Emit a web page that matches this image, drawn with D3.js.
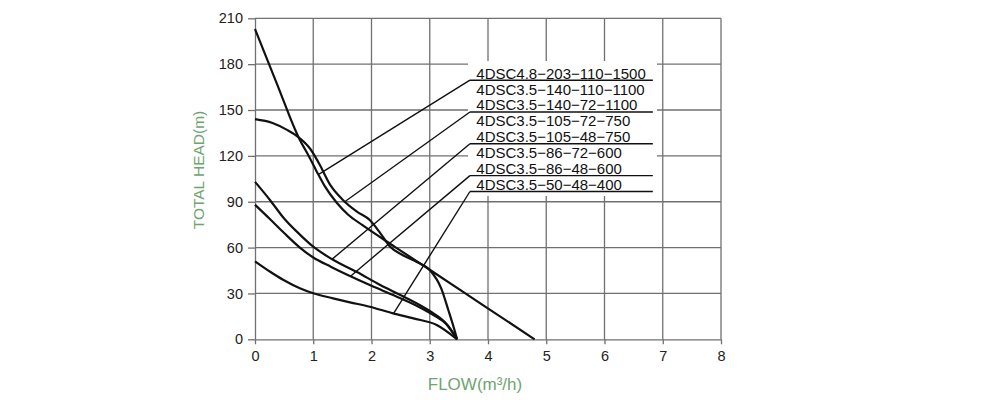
<!DOCTYPE html>
<html>
<head>
<meta charset="utf-8">
<script src="https://cdn.jsdelivr.net/npm/d3@7"></script>
<style>
  body { margin: 0; background: #fff; }
  svg { display: block; font-family: "Liberation Sans", Arial, sans-serif; }
</style>
</head>
<body>
<svg id="chart" width="1000" height="400"></svg>
<script>
// axis ticks
const flowTicks = [0, 1, 2, 3, 4, 5, 6, 7, 8];
const headTicks = [0, 30, 60, 90, 120, 150, 180, 210];

// pump curves (flow m3/h, head m)
const flow203 = [0, 0.38, 0.77, 0.90, 1.05, 1.20, 1.40, 1.60, 1.84, 2.40, 3.00, 3.90, 4.80];
const head203 = [203, 166.8, 130.4, 121.5, 110.5, 100.0, 89.5, 81.5, 74.8, 60.5, 45.5, 22.7, 0];

const flow140 = [0, 0.30, 0.55, 0.77, 0.95, 1.10, 1.30, 1.50, 1.75, 1.97, 2.15, 2.32, 2.54, 2.78, 3.00, 3.20, 3.32, 3.41, 3.47];
const head140 = [144, 141.5, 137.0, 131.5, 124.5, 115.0, 100.5, 91.5, 83.5, 78.0, 69.5, 60.5, 55.0, 50.6, 45.3, 33.0, 19.0, 8.0, 0];

const flow105 = [0, 0.26, 0.50, 0.77, 1.00, 1.34, 1.75, 2.15, 2.55, 3.00, 3.25, 3.47];
const head105 = [103, 91.0, 79.0, 68.5, 60.6, 52.0, 44.0, 35.5, 28.0, 18.5, 11.5, 0];

const flow86 = [0, 0.26, 0.50, 0.77, 1.00, 1.30, 1.63, 2.00, 2.40, 2.80, 3.10, 3.30, 3.47];
const head86 = [88, 78.5, 69.5, 60.0, 53.5, 47.5, 41.4, 35.0, 28.5, 21.5, 15.0, 9.5, 0];

const flow50 = [0, 0.26, 0.49, 0.77, 1.00, 1.34, 1.63, 1.97, 2.37, 2.72, 3.12, 3.47];
const head50 = [51, 44.2, 38.8, 33.4, 30.1, 26.8, 24.2, 21.3, 17.0, 13.7, 9.4, 0];

// legend labels, which rows get an underline + leader, and where the leader points
const models = [
  '4DSC4.8\u2212203\u2212110\u22121500',
  '4DSC3.5\u2212140\u2212110\u22121100',
  '4DSC3.5\u2212140\u221272\u22121100',
  '4DSC3.5\u2212105\u221272\u2212750',
  '4DSC3.5\u2212105\u221248\u2212750',
  '4DSC3.5\u221286\u221272\u2212600',
  '4DSC3.5\u221286\u221248\u2212600',
  '4DSC3.5\u221250\u221248\u2212400'
];
const leaderRows = [0, 2, 4, 6, 7];
const leaderFlow = [1.10, 1.54, 1.32, 1.64, 2.38];
const leaderHead = [108, 90.0, 52.3, 41.3, 17.0];

const svg = d3.select('#chart');

const x = d3.scaleLinear().domain([0, 8]).range([255, 721]);
const y = d3.scaleLinear().domain([0, 210]).range([339.3, 18.3]);

const gridColor = '#707070';

// grid
const grid = svg.append('g').attr('class', 'grid');
grid.selectAll('line.h')
    .data(headTicks.filter(d => d > 0))
    .enter().append('line')
    .attr('class', 'h')
    .attr('x1', x(0)).attr('x2', x(8))
    .attr('y1', d => y(d)).attr('y2', d => y(d))
    .style('stroke', gridColor).attr('stroke-width', 1.3);
grid.selectAll('line.v')
    .data(flowTicks.filter(d => d > 0))
    .enter().append('line')
    .attr('class', 'v')
    .attr('x1', d => x(d)).attr('x2', d => x(d))
    .attr('y1', y(0)).attr('y2', y(210))
    .style('stroke', gridColor).attr('stroke-width', 1.3);

// axes
const yAxis = svg.append('g')
    .attr('transform', `translate(${x(0)},0)`)
    .call(d3.axisLeft(y).tickValues(headTicks).tickSize(7).tickSizeOuter(0).tickPadding(5));
const xAxis = svg.append('g')
    .attr('transform', `translate(0,${y(0)})`)
    .call(d3.axisBottom(x).tickValues(flowTicks).tickSize(5).tickSizeOuter(0).tickPadding(6));

[yAxis, xAxis].forEach(a => {
    a.select('.domain').style('stroke', gridColor).attr('stroke-width', 1.3);
    a.selectAll('.tick line').style('stroke', gridColor).attr('stroke-width', 1.3);
    a.selectAll('.tick text')
        .style('font-family', '"Liberation Sans", Arial, sans-serif')
        .style('font-size', '14.5px')
        .style('fill', '#222');
});

// axis titles
svg.append('text')
    .attr('x', 475).attr('y', 390)
    .attr('text-anchor', 'middle')
    .style('font-size', '17px')
    .style('fill', '#6fa46f')
    .text('FLOW(m³/h)');
svg.append('text')
    .attr('transform', 'translate(204,170) rotate(-90)')
    .attr('text-anchor', 'middle')
    .style('font-size', '15.5px')
    .style('fill', '#6fa46f')
    .text('TOTAL HEAD(m)');

// white patch behind the label block
svg.append('rect')
    .attr('x', 468).attr('y', 61)
    .attr('width', 189).attr('height', 135)
    .style('fill', '#fff');

// curves
const line = d3.line()
    .x(d => x(d[0]))
    .y(d => y(d[1]))
    .curve(d3.curveMonotoneX);

const curves = [
    d3.zip(flow203, head203),
    d3.zip(flow140, head140),
    d3.zip(flow105, head105),
    d3.zip(flow86, head86),
    d3.zip(flow50, head50)
];

svg.append('g')
    .attr('class', 'curves')
    .selectAll('path')
    .data(curves)
    .enter().append('path')
    .attr('d', line)
    .style('fill', 'none')
    .style('stroke', '#111')
    .attr('stroke-width', 2.2)
    .attr('stroke-linejoin', 'round');

// labels
const labelX = x(3.80);
const rowY = i => 78.6 + i * 15.9;

svg.append('g')
    .attr('class', 'labels')
    .selectAll('text')
    .data(models)
    .enter().append('text')
    .attr('x', labelX)
    .attr('y', (d, i) => rowY(i))
    .style('font-size', '15px')
    .style('fill', '#111')
    .text(d => d);

const lineStart = x(3.69);
const lineEnd = x(6.83);

const leaders = svg.append('g').attr('class', 'leaders');
leaders.selectAll('line.under')
    .data(leaderRows)
    .enter().append('line')
    .attr('class', 'under')
    .attr('x1', lineStart).attr('x2', lineEnd)
    .attr('y1', d => rowY(d) + 1.6).attr('y2', d => rowY(d) + 1.6)
    .style('stroke', '#111').attr('stroke-width', 1.4);
leaders.selectAll('line.lead')
    .data(leaderRows)
    .enter().append('line')
    .attr('class', 'lead')
    .attr('x1', lineStart)
    .attr('y1', d => rowY(d) + 1.6)
    .attr('x2', (d, i) => x(leaderFlow[i]))
    .attr('y2', (d, i) => y(leaderHead[i]))
    .style('stroke', '#111').attr('stroke-width', 1.4);
</script>
</body>
</html>
